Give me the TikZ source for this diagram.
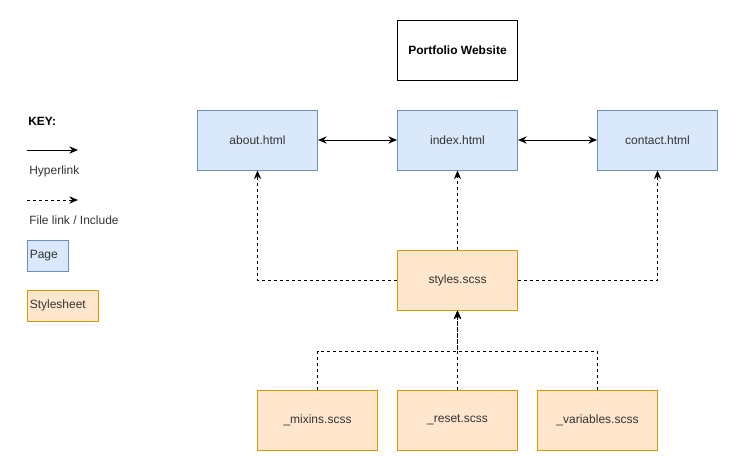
\documentclass[tikz,border=0pt]{standalone}
\usepackage{fontspec}
\setmainfont{Liberation Sans}
\usetikzlibrary{arrows.meta,calc}
\definecolor{pagefill}{HTML}{DAE8FC}
\definecolor{pageline}{HTML}{6C8EBF}
\definecolor{stylefill}{HTML}{FFE6CC}
\definecolor{styleline}{HTML}{D79B00}
\definecolor{txt}{HTML}{333333}
\tikzset{
  tip/.tip={Stealth[length=6.5pt,width=5.5pt]},
  box/.style={draw, line width=0.75pt, minimum width=90pt, minimum height=45pt, inner sep=0pt, font=\fontsize{9}{11}\selectfont, text=txt},
  pagebox/.style={box, fill=pagefill, draw=pageline},
  stylebox/.style={box, fill=stylefill, draw=styleline},
  titlebox/.style={box, draw=black, fill=white, font=\bfseries\fontsize{9}{11}\selectfont, text=black},
  link/.style={line width=0.75pt, -tip},
  biglink/.style={line width=0.75pt, tip-tip},
  dep/.style={line width=0.75pt, dash pattern=on 2.25pt off 2.25pt, -tip},
  keytext/.style={anchor=west, inner sep=0pt, font=\fontsize{9}{11}\selectfont, text=txt},
}
\begin{document}
\begin{tikzpicture}[x=0.75pt,y=-0.75pt]
\useasboundingbox (0,0) rectangle (738,471);
% main nodes
\node[titlebox] (title) at (457.5,50) {Portfolio Website};
\node[pagebox] (about) at (257.5,140) {about.html};
\node[pagebox] (index) at (457.5,140) {index.html};
\node[pagebox] (contact) at (657.5,140) {contact.html};
\node[stylebox] (styles) at (457.5,280) {styles.scss};
\node[stylebox] (mixins) at (317.5,420) {\_mixins.scss};
\node[stylebox] (reset) at (457.5,420) {\_reset.scss};
\node[stylebox] (vars) at (597.5,420) {\_variables.scss};
\coordinate (j) at (457.5,351);
% connectors
\draw[biglink] (about) -- (index);
\draw[biglink] (index) -- (contact);
\draw[dep] (styles.west) -| (about.south);
\draw[dep] (styles.east) -| (contact.south);
\draw[dep] (styles.north) -- (index.south);
\draw[dep] (mixins.north) |- (j) -- (styles.south);
\draw[dep] (vars.north) |- (j) -- (styles.south);
\draw[dep] (reset.north) -- (styles.south);
% key
\node[anchor=west, inner sep=0pt, font=\bfseries\fontsize{9}{11}\selectfont, text=black] (keylabel) at (28,121) {KEY:};
\coordinate (k1a) at (27,150);
\coordinate (k1b) at (78,150);
\draw[link] (k1a) -- (k1b);
\node[keytext] (hyper) at (29,171) {Hyperlink};
\coordinate (k2a) at (27,200);
\coordinate (k2b) at (78,200);
\draw[dep] (k2a) -- (k2b);
\node[keytext] (filelink) at (29,220) {File link / Include};
\node[draw=pageline, fill=pagefill, line width=0.75pt, minimum width=30.75pt, minimum height=23.25pt, inner sep=0pt] (pagekey) at (47.5,255.5) {};
\node[keytext] at ($(pagekey.west)+(2.25pt,0)$) {Page};
\node[draw=styleline, fill=stylefill, line width=0.75pt, minimum width=53.25pt, minimum height=23.25pt, inner sep=0pt] (stylekey) at (62.5,305.5) {};
\node[keytext] at ($(stylekey.west)+(2.25pt,0)$) {Stylesheet};
\end{tikzpicture}
\end{document}
